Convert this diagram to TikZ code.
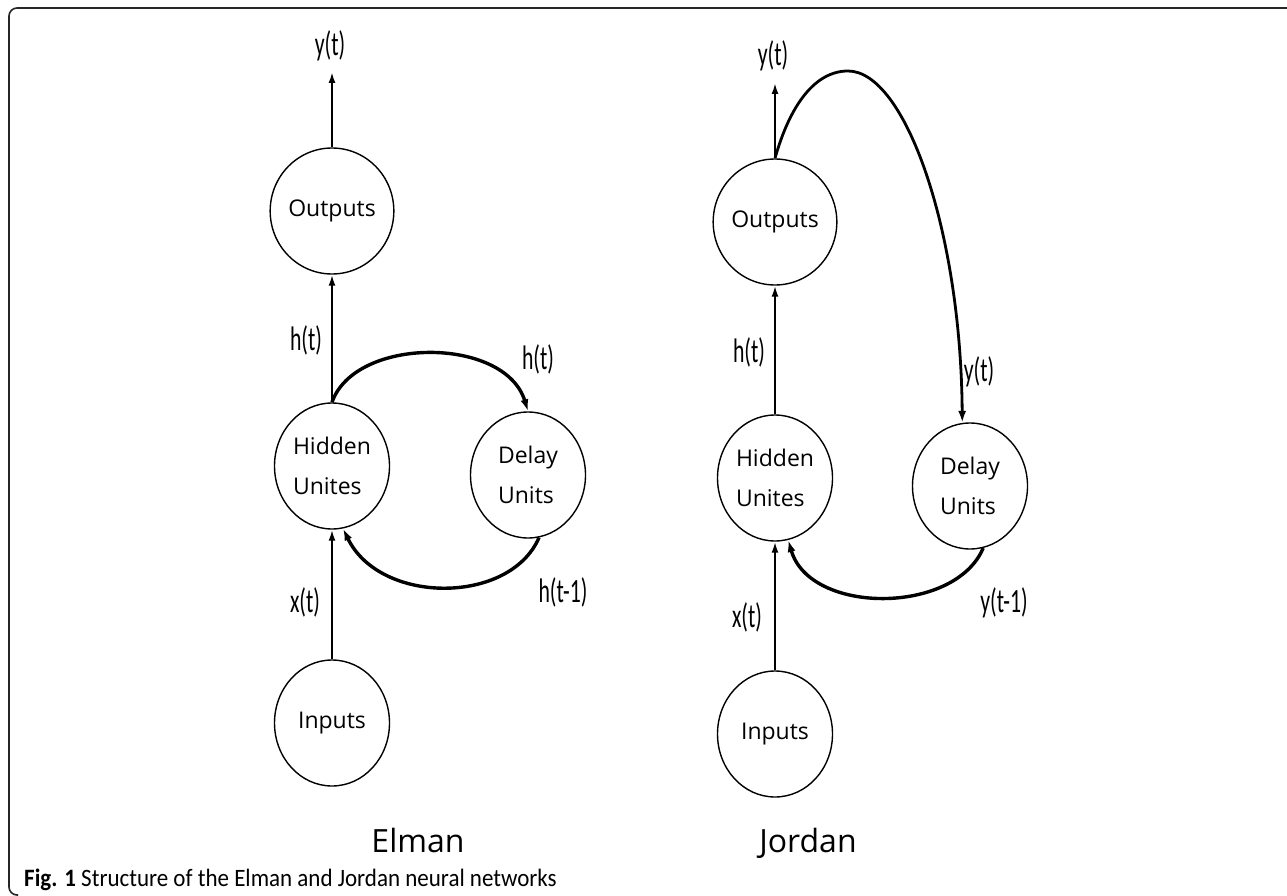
\documentclass[tikz,border=0pt]{standalone}
\usepackage{fontspec}
\setmainfont{Open Sans}
\newfontfamily\lblfont[FakeStretch=0.64]{Carlito}
\newfontfamily\capfont[FakeStretch=0.92]{Carlito}
\usetikzlibrary{shapes.geometric,arrows.meta}
\begin{document}
\begin{tikzpicture}[x=1pt,y=-1pt,
  unit/.style={ellipse, draw, line width=1.4pt, minimum width=115pt, minimum height=126pt,
    inner sep=0pt, align=left, font=\fontsize{23}{40}\selectfont},
  lbl/.style={font=\lblfont\fontsize{34}{36}\selectfont, inner sep=0pt},
  vline/.style={line width=2pt, -{Latex[length=11pt,width=7pt]}},
  cline/.style={line width=3.4pt, -{Latex[length=12pt,width=8pt]}},
  jline/.style={line width=2.8pt, -{Latex[length=12pt,width=8pt]}},
  title/.style={font=\fontsize{32}{36}\selectfont, anchor=base, inner sep=0pt},
  frame/.style={line width=1.6pt, rounded corners=8pt, draw=black!85}
]
\useasboundingbox (0,0) rectangle (1287,896);
\draw[frame] (1300,8) -- (9,8) -- (9,895) -- (18,895);

% Elman
\node[unit] (out1) at (332,211) {Outputs};
\node[unit] (hid1) at (332,466) {Hidden\\Unites};
\node[unit] (del1) at (528,475) {Delay\\Units};
\node[unit] (inp1) at (332,723) {Inputs};
\node[lbl] (yo1) at (330,46) {y(t)};
\coordinate (yo1tip) at (332,72);
\node[lbl] (h1) at (306,340) {h(t)};
\node[lbl] (hd1) at (538,359) {h(t)};
\node[lbl] (hm1) at (563,592) {h(t-1)};
\node[lbl] (x1) at (305,602) {x(t)};
\draw[vline] (out1.north) -- (yo1tip);
\draw[vline] (hid1.north) -- (out1.south);
\draw[vline] (inp1.north) -- (hid1.south);
\draw[cline] (hid1.north) .. controls (355,336) and (505,336) .. (del1.north);
\draw[cline] (del1.-80) .. controls (510,605) and (380,605) .. (hid1.-80);
\node[title] (t1) at (418,852) {Elman};

% Jordan
\node[unit] (out2) at (775,222) {Outputs};
\node[unit] (hid2) at (775,478) {Hidden\\Unites};
\node[unit] (del2) at (970,486) {Delay\\Units};
\node[unit] (inp2) at (775,734) {Inputs};
\node[lbl] (yo2) at (773,56) {y(t)};
\coordinate (yo2tip) at (775,83);
\node[lbl] (h2) at (749,352) {h(t)};
\node[lbl] (yd2) at (979,372) {y(t)};
\node[lbl] (ym2) at (1004,603) {y(t-1)};
\node[lbl] (x2) at (747,617) {x(t)};
\draw[vline] (out2.north) -- (yo2tip);
\draw[vline] (hid2.north) -- (out2.south);
\draw[vline] (inp2.north) -- (hid2.south);
\coordinate (peak2) at (848,71);
\draw[jline] (out2.north) .. controls (790,105) and (815,71) .. (peak2)
  .. controls (905,71) and (961,230) .. (del2.97);
\draw[cline] (del2.-78) .. controls (955,615) and (810,615) .. (hid2.-78);
\node[title] (t2) at (808,852) {Jordan};

\node[anchor=base west, inner sep=0pt, font=\capfont\fontsize{25}{28}\selectfont] (cap) at (24,886)
  {\textbf{Fig. 1} Structure of the Elman and Jordan neural networks};
\end{tikzpicture}
\end{document}
